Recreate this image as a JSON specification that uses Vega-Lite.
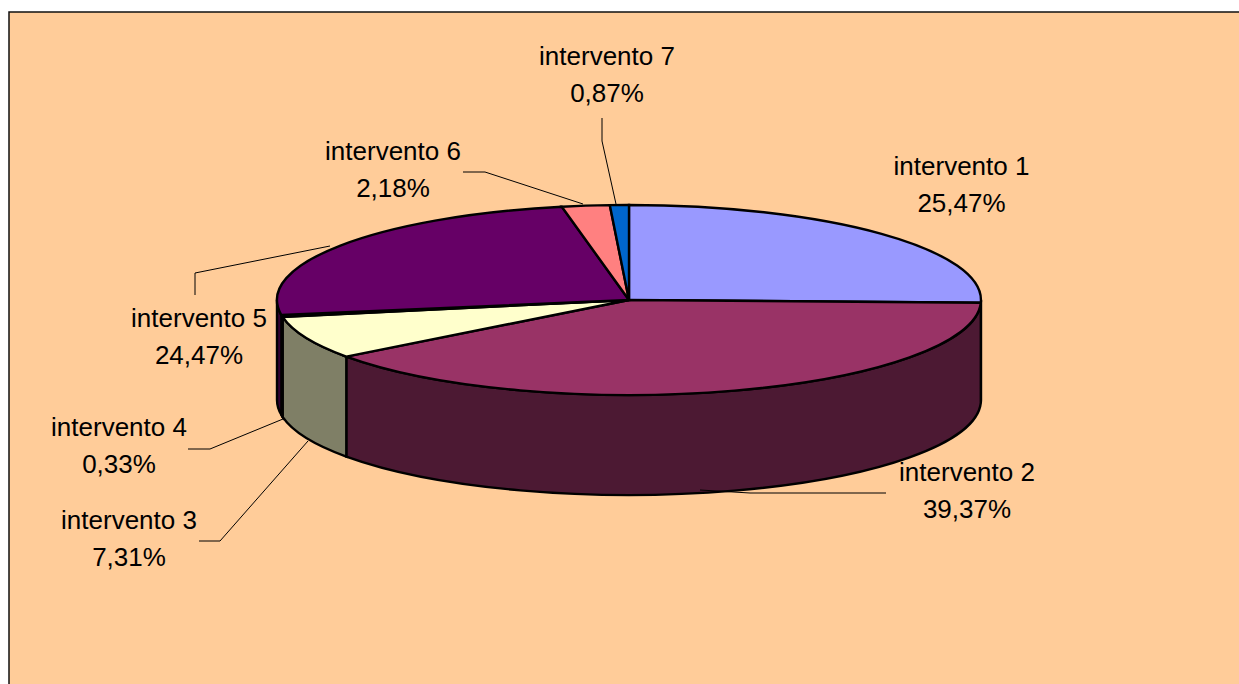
{
"$schema":"https://vega.github.io/schema/vega-lite/v6.json",
"width":1240,"height":684,
"padding":{"left":9,"top":12,"right":0,"bottom":0},
"autosize":{"type":"none"},
"background":"white",
"config":{"view":{"fill":"#FFCC99","stroke":"#111111","strokeWidth":1.5}},
"data":{"values":[
{"slice":"intervento 1","value":25.47,"label":"intervento 1\n25,47%"},
{"slice":"intervento 2","value":39.37,"label":"intervento 2\n39,37%"},
{"slice":"intervento 3","value":7.31,"label":"intervento 3\n7,31%"},
{"slice":"intervento 4","value":0.33,"label":"intervento 4\n0,33%"},
{"slice":"intervento 5","value":24.47,"label":"intervento 5\n24,47%"},
{"slice":"intervento 6","value":2.18,"label":"intervento 6\n2,18%"},
{"slice":"intervento 7","value":0.87,"label":"intervento 7\n0,87%"}
]},
"layer":[
{"transform":[{"filter":{"field":"slice","oneOf":["intervento 1","intervento 2","intervento 3","intervento 4","intervento 5"]}}],
 "mark":{"type":"point","filled":true,"opacity":1,"size":4,"stroke":"black","strokeWidth":2.4},
 "encoding":{
  "shape":{"field":"slice","type":"nominal","legend":null,"scale":{
   "domain":["intervento 1","intervento 2","intervento 3","intervento 4","intervento 5"],
   "range":[
    "M352,-54 A352,95 0 0 1 351.8,-51.2 L351.8,48.8 A352,95 0 0 0 352,46 Z",
    "M351.8,-51.2 L351.8,48.8 A352,95 0 0 1 -282.7,102.6 L-282.7,2.6 A352,95 0 0 0 351.8,-51.2 Z",
    "M-282.7,2.6 L-282.7,102.6 A352,95 0 0 1 -346.4,62.9 L-346.4,-37.1 A352,95 0 0 0 -282.7,2.6 Z",
    "M-346.4,-37.1 L-346.4,62.9 A352,95 0 0 1 -347.6,61 L-347.6,-39 A352,95 0 0 0 -346.4,-37.1 Z",
    "M-347.6,-39 L-347.6,61 A352,95 0 0 1 -352,46 L-352,-54 A352,95 0 0 0 -347.6,-39 Z"
   ]}},
  "fill":{"field":"slice","type":"nominal","legend":null,"scale":{
   "domain":["intervento 1","intervento 2","intervento 3","intervento 4","intervento 5"],
   "range":["#4C4C7F","#4C1933","#7F7F66","#667F7F","#330033"]}}
 }},
{"mark":{"type":"point","filled":true,"opacity":1,"size":4,"stroke":"black","strokeWidth":2.4},
 "encoding":{
  "shape":{"field":"slice","type":"nominal","legend":null,"scale":{
   "domain":["intervento 1","intervento 2","intervento 3","intervento 4","intervento 5","intervento 6","intervento 7"],
   "range":[
    "M0,-54 L0,-149 A352,95 0 0 1 351.8,-51.2 Z",
    "M0,-54 L351.8,-51.2 A352,95 0 0 1 -282.7,2.6 Z",
    "M0,-54 L-282.7,2.6 A352,95 0 0 1 -346.4,-37.1 Z",
    "M0,-54 L-346.4,-37.1 A352,95 0 0 1 -347.6,-39 Z",
    "M0,-54 L-347.6,-39 A352,95 0 0 1 -67.2,-147.3 Z",
    "M0,-54 L-67.2,-147.3 A352,95 0 0 1 -19.2,-148.9 Z",
    "M0,-54 L-19.2,-148.9 A352,95 0 0 1 0,-149 Z"
   ]}},
  "fill":{"field":"slice","type":"nominal","legend":null,"scale":{
   "domain":["intervento 1","intervento 2","intervento 3","intervento 4","intervento 5","intervento 6","intervento 7"],
   "range":["#9999FF","#993366","#FFFFCC","#CCFFFF","#660066","#FF8080","#0066CC"]}}
 }},
{"transform":[{"filter":{"field":"slice","oneOf":["intervento 2","intervento 3","intervento 4","intervento 5","intervento 6","intervento 7"]}}],
 "mark":{"type":"point","filled":false,"opacity":1,"size":4,"fill":"transparent","stroke":"black","strokeWidth":1},
 "encoding":{
  "shape":{"field":"slice","type":"nominal","legend":null,"scale":{
   "domain":["intervento 2","intervento 3","intervento 4","intervento 5","intervento 6","intervento 7"],
   "range":[
    "M257,139 L121,139 L71,136",
    "M-430,187 L-409,187 L-321,87",
    "M-441,95 L-419,95 L-346,65",
    "M-434,-59 L-434,-81 L-299,-108",
    "M-166,-182 L-144,-182 L-46,-150",
    "M-27,-236 L-27,-213 L-13,-150"
   ]}}
 }},
{"mark":{"type":"text","font":"Liberation Sans","fontSize":26,"color":"black","lineBreak":"\n","lineHeight":37,"align":"center","baseline":"middle"},
 "encoding":{
  "text":{"field":"label","type":"nominal"},
  "x":{"field":"value","type":"quantitative","axis":null,"scale":{"domain":[0.33,0.87,2.18,7.31,24.47,25.47,39.37],"range":[110,598,384,120,190,952.5,958]}},
  "y":{"field":"value","type":"quantitative","axis":null,"scale":{"domain":[0.33,0.87,2.18,7.31,24.47,25.47,39.37],"range":[416,45,140,509,307,155,461]}}
 }}
],
"resolve":{"scale":{"shape":"independent","fill":"independent"}}
}
